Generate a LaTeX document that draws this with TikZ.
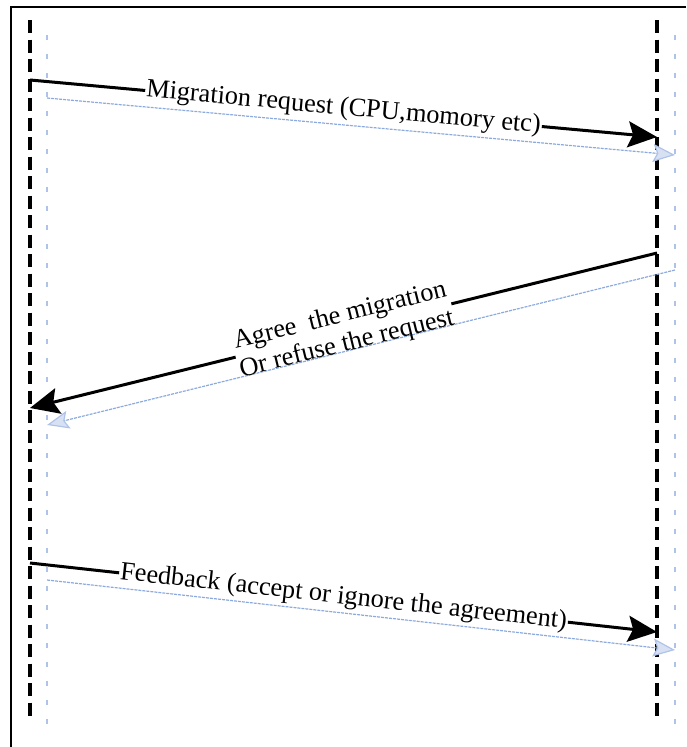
\documentclass[tikz,border=0pt]{standalone}
\usepackage{fontspec}
\setmainfont{Liberation Serif}
\usetikzlibrary{arrows.meta}
\definecolor{ghost}{RGB}{140,170,222}
\definecolor{ghostlife}{RGB}{175,195,232}
\begin{document}
\begin{tikzpicture}[x=1pt,y=-1pt,
  lifeline/.style={line width=3.5pt, dash pattern=on 13pt off 6.5pt},
  ghostline/.style={ghostlife, line width=2.5pt, dash pattern=on 5pt off 14pt},
  msg/.style={line width=3pt},
  msgtip/.style={-{Stealth[length=29pt,width=26pt,inset=5pt]}},
  ghostmsg/.style={ghost, line width=1.2pt, dash pattern=on 3pt off 1pt,
    -{Stealth[length=22pt,width=18pt,inset=4pt,color=ghost!70,fill=ghost!35]}},
  msglabel/.style={font=\fontsize{26.3}{29}\selectfont, inner sep=1pt, sloped}
]
\useasboundingbox (0,0) rectangle (686,747);
% open frame
\draw[line width=2pt] (11,747) -- (11,7) -- (686,7);

% lifelines and their faint copies
\coordinate (L0) at (30,20);  \coordinate (L1) at (30,720);
\coordinate (R0) at (657,20); \coordinate (R1) at (657,720);
\coordinate (GL0) at (47,35);  \coordinate (GL1) at (47,735);
\coordinate (GR0) at (675,35); \coordinate (GR1) at (675,735);
\draw[ghostline] (GL0) -- (GL1);
\draw[ghostline] (GR0) -- (GR1);
\draw[lifeline] (L0) -- (L1);
\draw[lifeline] (R0) -- (R1);

% message endpoints
\coordinate (m1s) at (30,80);   \coordinate (m1e) at (657,137);
\coordinate (g1s) at (47,98);   \coordinate (g1e) at (675,155);
\coordinate (m2s) at (657,253); \coordinate (m2e) at (30,408);
\coordinate (g2s) at (675,270); \coordinate (g2e) at (47,425);
\coordinate (m3s) at (30,563);  \coordinate (m3e) at (657,632);
\coordinate (g3s) at (47,580);  \coordinate (g3e) at (675,650);

% faint copies of the messages
\draw[ghostmsg] (g1s) -- (g1e);
\draw[ghostmsg] (g2s) -- (g2e);
\draw[ghostmsg] (g3s) -- (g3e);

% message 1
\path (m1s) -- (m1e) node[msglabel, midway] (t1) {Migration request (CPU,momory etc)};
\draw[msg] (m1s) -- (t1.west);
\draw[msg, msgtip] (t1.east) -- (m1e);

% message 2
\path (m2s) -- (m2e) node[msglabel, midway, align=center] (t2) {Agree\ \ the migration\\Or refuse the request};
\draw[msg] (m2s) -- (t2.east);
\draw[msg, msgtip] (t2.west) -- (m2e);

% message 3
\path (m3s) -- (m3e) node[msglabel, midway] (t3) {Feedback (accept or ignore the agreement)};
\draw[msg] (m3s) -- (t3.west);
\draw[msg, msgtip] (t3.east) -- (m3e);
\end{tikzpicture}
\end{document}
